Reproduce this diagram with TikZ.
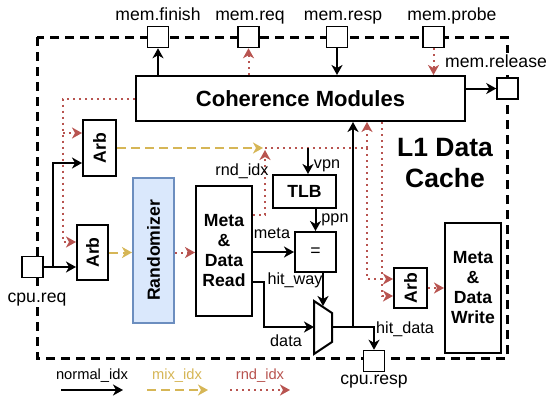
\documentclass[tikz,border=0pt]{standalone}
\usepackage{fontspec}
\usepackage{graphicx}
\setmainfont{Liberation Sans}
\usetikzlibrary{arrows.meta}
\definecolor{rndc}{HTML}{B85450}
\definecolor{mixc}{HTML}{D6B656}
\definecolor{randfill}{HTML}{DAE8FC}
\definecolor{randdraw}{HTML}{6C8EBF}
\tikzset{
  box/.style={draw, line width=2pt, inner sep=0pt, align=center, fill=white,
    font=\fontsize{17.6}{20}\selectfont\bfseries},
  port/.style={draw, line width=1.5pt, minimum width=21pt, minimum height=21pt, inner sep=0pt, fill=white},
  plabel/.style={anchor=base, inner sep=1.5pt, fill=white, font=\fontsize{17.6}{20}\selectfont},
  ilabel/.style={anchor=base, inner sep=0pt, font=\fontsize{16.2}{18}\selectfont},
  llabel/.style={anchor=base, inner sep=0pt, font=\fontsize{14.7}{17}\selectfont},
  tip/.style={-{Stealth[length=10pt,width=11pt,inset=3pt]}},
  nrm/.style={line width=2pt, tip},
  rnd/.style={line width=2pt, rndc, dash pattern=on 2pt off 4pt, tip},
  mix/.style={line width=2pt, mixc, dash pattern=on 9pt off 5pt, tip},
}
\begin{document}
\begin{tikzpicture}[x=1pt, y=-1pt]
\useasboundingbox (0,0) rectangle (549,397);
% outer dashed border
\draw[line width=3pt, dash pattern=on 9pt off 6pt] (37,37) rectangle (507,358);

% ports
\node[port] (finish) at (158,37) {};
\node[port] (req) at (248.5,37) {};
\node[port] (resp) at (337,37) {};
\node[port] (probe) at (433.5,37) {};
\node[port] (release) at (507.5,88.5) {};
\node[port] (cpureq) at (32.5,267) {};
\node[port] (cpuresp) at (374,361) {};

\node[plabel] (lfinish) at (158,20) {mem.finish};
\node[plabel] (lreq) at (250,20) {mem.req};
\node[plabel] (lresp) at (343,20) {mem.resp};
\node[plabel] (lprobe) at (452,20) {mem.probe};
\node[plabel] (lrelease) at (496,67) {mem.release};
\node[plabel] (lcpureq) at (37,302) {cpu.req};
\node[plabel] (lcpuresp) at (374,384) {cpu.resp};

% boxes
\node[box, minimum width=329pt, minimum height=45pt, font=\fontsize{22}{26}\selectfont\bfseries] (coh) at (300.5,98.5) {Coherence Modules};
\node[box, minimum width=33pt, minimum height=56pt] (arbT) at (99.5,148) {\rotatebox{90}{Arb}};
\node[box, minimum width=31pt, minimum height=55pt] (arbB) at (92.5,252.5) {\rotatebox{90}{Arb}};
\node[box, minimum width=41pt, minimum height=145pt, fill=randfill, draw=randdraw] (rand) at (153.5,250.5) {\rotatebox{90}{Randomizer}};
\node[box, minimum width=56pt, minimum height=130pt] (mdr) at (224,251) {Meta\\\&\\Data\\Read};
\node[box, minimum width=63pt, minimum height=33pt] (tlb) at (304.5,191.5) {TLB};
\node[box, minimum width=41pt, minimum height=40pt, font=\fontsize{17.6}{20}\selectfont] (eq) at (315.5,252) {=};
\node[box, minimum width=33pt, minimum height=40pt] (arbR) at (410.5,288) {\rotatebox{90}{Arb}};
\node[box, minimum width=56pt, minimum height=130pt] (mdw) at (473,288) {Meta\\\&\\Data\\Write};

\node[align=center, inner sep=0pt, font=\fontsize{26.5}{31}\selectfont\bfseries] (l1) at (445,163) {L1 Data\\Cache};

% mux
\draw[line width=2pt, fill=white] (314,301) -- (332,313) -- (332,342) -- (314,354) -- cycle;
\coordinate (muxtop) at (323,306);
\coordinate (muxin) at (314,327);
\coordinate (muxout) at (332,327);

% memory side connectors
\draw[nrm] (coh.north -| finish) -- (finish.south);
\draw[rnd] (coh.north -| req) -- (req.south);
\draw[nrm] (resp.south) -- (resp |- coh.north);
\draw[rnd] (probe.south) -- (probe |- coh.north);
\draw[nrm] (coh.east |- release) -- (release.west);

% red from coherence to the two left arbiters
\coordinate (rL) at (63,98.5);
\coordinate (rLa) at (63,133);
\coordinate (rLb) at (63,242);
\draw[rnd] (coh.west) -- (rL) -- (rLb) -- (arbB.west |- rLb);
\draw[rnd] (rLa) -- (arbT.west |- rLa);

% cpu.req to arbiters
\coordinate (bJ) at (53,267);
\coordinate (bT) at (53,163);
\draw[nrm] (cpureq.east) -- (arbB.west |- cpureq.east);
\draw[nrm] (bJ) -- (bT) -- (arbT.west |- bT);

% arbiter -> randomizer -> meta read
\draw[mix] (arbB.east) -- (rand.west |- arbB.east);
\draw[rnd] (rand.east |- arbB.east) -- (mdr.west |- arbB.east);

% top arb mix and rnd_idx junction
\coordinate (jn) at (265,148);
\coordinate (jnb) at (265,150);
\draw[mix] (arbT.east) -- ([xshift=-2pt]jn);
\coordinate (rd1) at (265,215);
\draw[rnd] (mdr.east |- rd1) -- (rd1) -- (jnb);
\coordinate (jr) at (367,148);
\coordinate (jr2) at (367,279);
\draw[rnd] (jn) -- (jr) -- (jr |- coh.south);
\draw[rnd] (jr) -- (jr2) -- (arbR.west |- jr2);
\coordinate (k2) at (382,296);
\draw[rnd] (coh.south -| k2) -- (k2) -- (arbR.west |- k2);
\draw[rnd] (arbR.east) -- (mdw.west |- arbR.east);

% TLB path
\coordinate (v0) at (308,148);
\draw[nrm] (v0) -- (v0 |- tlb.north);
\draw[nrm] (eq.north |- tlb.south) -- (eq.north);
\draw[nrm] (mdr.east |- eq.west) -- (eq.west);
\draw[nrm] (eq.south -| muxtop) -- (muxtop);
\coordinate (d1) at (264,282);
\coordinate (d2) at (264,327);
\draw[nrm] (mdr.east |- d1) -- (d1) -- (d2) -- (muxin);
\coordinate (o1) at (353,327);
\draw[nrm] (muxout) -- (o1) -- (o1 |- coh.south);
\draw[nrm] (o1) -- (cpuresp.north |- o1) -- (cpuresp.north);

% internal labels
\node[ilabel] (tvpn) at (327,168) {vpn};
\node[ilabel] (tppn) at (335,222) {ppn};
\node[ilabel] (trnd) at (242,175) {rnd\_idx};
\node[ilabel] (tmeta) at (272,238) {meta};
\node[ilabel] (tway) at (295,284) {hit\_way};
\node[ilabel] (tdata) at (286,346) {data};
\node[ilabel] (thd) at (405,333) {hit\_data};

% legend
\coordinate (g1a) at (61,390); \coordinate (g1b) at (123,390);
\coordinate (g2a) at (147,390); \coordinate (g2b) at (208,390);
\coordinate (g3a) at (230,390); \coordinate (g3b) at (290,390);
\draw[nrm] (g1a) -- (g1b);
\draw[mix] (g2a) -- (g2b);
\draw[rnd] (g3a) -- (g3b);
\node[llabel] (lg1) at (92,379) {normal\_idx};
\node[llabel, text=mixc] (lg2) at (177,379) {mix\_idx};
\node[llabel, text=rndc] (lg3) at (260,379) {rnd\_idx};
\end{tikzpicture}
\end{document}
